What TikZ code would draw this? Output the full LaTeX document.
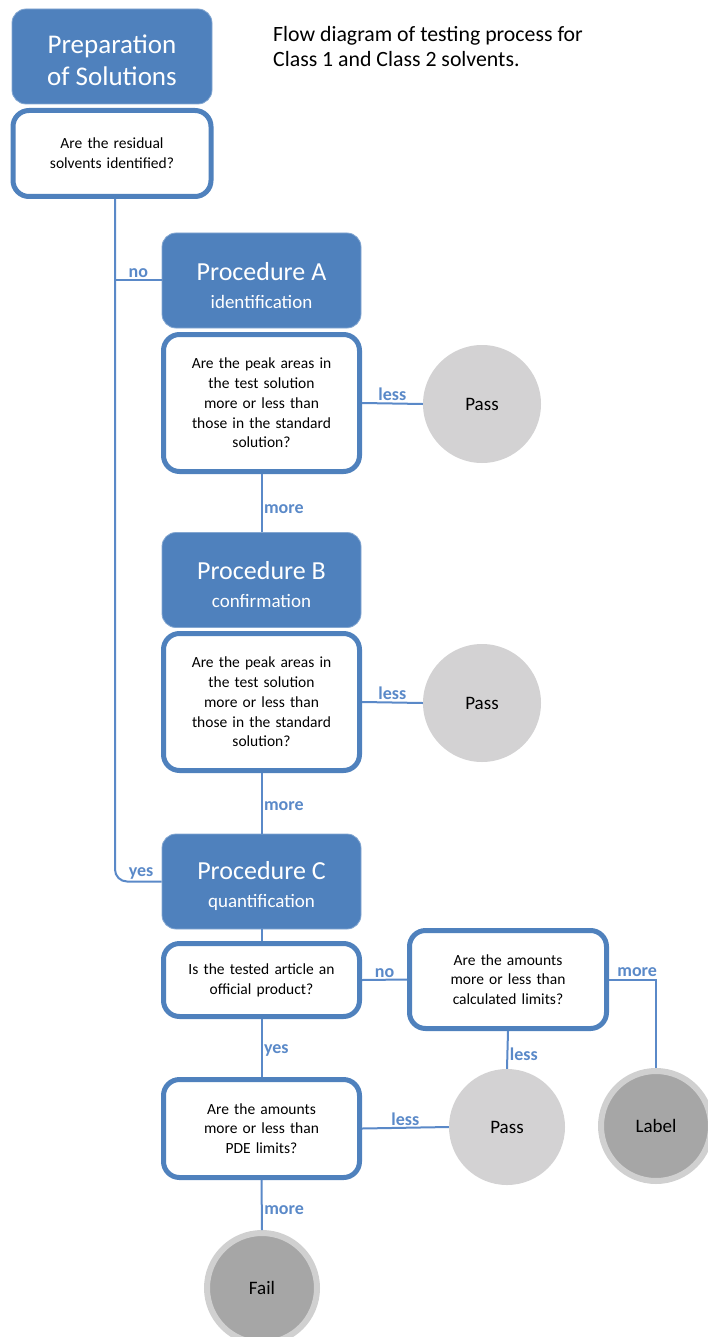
\documentclass[tikz,border=0pt]{standalone}
\usepackage{fontspec}
\setmainfont{Carlito}
\definecolor{boxblue}{HTML}{4F81BD}
\definecolor{lineblue}{HTML}{5A89C8}
\definecolor{passgray}{HTML}{D3D2D3}
\definecolor{darkgray}{HTML}{A6A6A6}
\definecolor{ringgray}{HTML}{D0D0D0}
\newcommand{\upstrut}[1]{\rule{0pt}{#1}}
\begin{document}
\begin{tikzpicture}[x=1pt,y=-1pt,
  procbox/.style={fill=boxblue, draw=boxblue!70!white, line width=0.8pt, rounded corners=14pt,
    minimum width=199pt, minimum height=95pt, text=white, align=center, inner sep=0pt,
    font=\fontsize{26}{28}\selectfont},
  qbox/.style={fill=white, draw=boxblue, line width=5pt, rounded corners=16pt,
    minimum width=196pt, align=center, inner sep=0pt, text width=175pt,
    font=\fontsize{15.5}{19.8}\selectfont},
  passc/.style={circle, fill=passgray, minimum size=118pt, inner sep=0pt,
    font=\fontsize{19}{22}\selectfont},
  endc/.style={circle, fill=darkgray, draw=ringgray, line width=6pt, minimum size=110pt, inner sep=0pt,
    font=\fontsize{19}{22}\selectfont},
  conn/.style={draw=lineblue, line width=2pt},
  lab/.style={text=lineblue, font=\bfseries\fontsize{18}{20}\selectfont, inner sep=1.5pt}
]
\useasboundingbox (0,0) rectangle (707,1337);

% title
\node[anchor=north west, align=left, inner sep=0pt, font=\fontsize{21.8}{25}\selectfont]
  (title) at (273,26) {Flow diagram of testing process for\\Class 1 and Class 2 solvents.};

% top
\node[procbox, minimum width=200pt, font=\fontsize{27}{32}\selectfont] (prep) at (112,56.5)
  {\upstrut{26pt}Preparation\\of Solutions};
\node[qbox, minimum width=198pt, minimum height=86pt] (q1) at (112,153.5)
  {Are the residual\\solvents identified?};

% procedure A
\node[procbox] (procA) at (261.5,280.5)
  {\upstrut{27.5pt}Procedure A\\\fontsize{19}{28}\selectfont identification};
\node[qbox, minimum height=137pt] (qA) at (261.5,403)
  {Are the peak areas in\\the test solution\\more or less than\\those in the standard\\solution?};
\node[passc] (pass1) at (482,404) {Pass};

% procedure B
\node[procbox] (procB) at (261.5,580)
  {\upstrut{27.5pt}Procedure B\\\fontsize{19}{28}\selectfont confirmation};
\node[qbox, minimum height=137pt] (qB) at (261.5,702)
  {Are the peak areas in\\the test solution\\more or less than\\those in the standard\\solution?};
\node[passc] (pass2) at (482,703) {Pass};

% procedure C
\node[procbox] (procC) at (261.5,881.5)
  {\upstrut{27.5pt}Procedure C\\\fontsize{19}{28}\selectfont quantification};
\node[qbox, minimum height=73pt] (qC) at (261.5,980)
  {Is the tested article an\\official product?};
\node[qbox, minimum width=197pt, minimum height=98pt] (qD) at (508,979.5)
  {Are the amounts\\more or less than\\calculated limits?};
\node[qbox, minimum height=98pt] (qE) at (261.5,1128.5)
  {Are the amounts\\more or less than\\PDE limits?};
\node[passc, minimum size=116pt] (pass3) at (507,1127) {Pass};
\node[endc] (label) at (656,1126) {Label};
\node[endc] (fail) at (262,1288) {Fail};

% connectors
\coordinate (qone) at ([xshift=3pt]q1.south);
\draw[conn, rounded corners=12pt] (qone) |- (procC.west)
  node[lab, pos=0.78, above] {yes};
\draw[conn] (qone |- procA.west) -- (procA.west) node[lab, midway, above] {no};
\draw[conn] (qA.east) -- (pass1.west) node[lab, midway, above] {less};
\draw[conn] (qA.south) -- (procB.north) node[lab, pos=0.6, right] {more};
\draw[conn] (qB.east) -- (pass2.west) node[lab, midway, above] {less};
\draw[conn] (qB.south) -- (procC.north) node[lab, pos=0.55, right] {more};
\draw[conn] (procC.south) -- (qC.north);
\draw[conn] (qC.east) -- (qD.west) node[lab, midway, above] {no};
\draw[conn] (qD.east) -| (label.north) node[lab, pos=0.3, above] {more};
\draw[conn] (qD.south) -- (pass3.north) node[lab, pos=0.62, right] {less};
\draw[conn] (qC.south) -- (qE.north) node[lab, pos=0.55, right] {yes};
\draw[conn] (qE.east) -- (pass3.west) node[lab, midway, above] {less};
\draw[conn] (qE.south) -- (fail.north) node[lab, pos=0.6, right] {more};
\end{tikzpicture}
\end{document}
